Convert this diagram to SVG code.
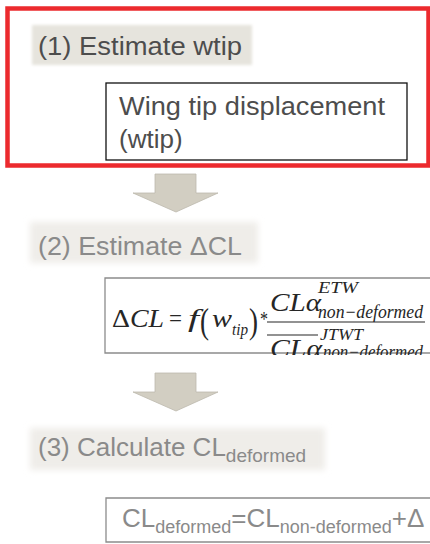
<svg xmlns="http://www.w3.org/2000/svg" width="430" height="544" viewBox="0 0 430 544">
<defs>
<style>
.sans{font-family:"Liberation Sans",Arial,sans-serif;}
.math{font-family:"Liberation Serif","Times New Roman",serif;fill:#262626;}
.it{font-style:italic;}
.dark{fill:#4d4d4d;}
.light{fill:#8a8a8a;}
.arrow{fill:#d2cec2;stroke:#bdb9ad;stroke-width:0.8;}
.fbox{fill:none;stroke:#8c8c8c;stroke-width:1.3;}
</style>
<filter id="soft1" x="-10%" y="-30%" width="120%" height="160%"><feGaussianBlur stdDeviation="1.5"/></filter>
<filter id="soft2" x="-10%" y="-30%" width="120%" height="160%"><feGaussianBlur stdDeviation="3"/></filter>
<clipPath id="fclip"><rect x="100" y="270" width="330" height="85"/></clipPath>
</defs>
<rect width="430" height="544" fill="#ffffff"/>

<g id="step1">
<rect x="32" y="25" width="220" height="40" fill="#e6e4dd" filter="url(#soft1)"/>
<text class="sans dark" x="38" y="55" font-size="26" textLength="204" lengthAdjust="spacingAndGlyphs">(1) Estimate wtip</text>
<rect x="106" y="83" width="301" height="77" fill="#ffffff" stroke="#111111" stroke-width="1.3"/>
<text class="sans dark" x="119" y="115" font-size="26" textLength="266" lengthAdjust="spacingAndGlyphs">Wing tip displacement</text>
<text class="sans dark" x="119" y="148" font-size="26">(wtip)</text>
<rect x="7.5" y="8.5" width="421" height="157" fill="none" stroke="#ec2a2e" stroke-width="4.5"/>
</g>

<g id="step2">
<rect x="30" y="222" width="228" height="41" fill="#efede9" filter="url(#soft2)"/>
<text class="sans light" x="38" y="255" font-size="26" textLength="204" lengthAdjust="spacingAndGlyphs">(2) Estimate ΔCL</text>
</g>

<g id="formula2">
<path class="fbox" d="M430,278 H105 V353 H430"/>
<g clip-path="url(#fclip)">
<text class="math" x="112" y="327" font-size="25" textLength="52" lengthAdjust="spacingAndGlyphs">Δ<tspan class="it">CL</tspan></text>
<text class="math" x="169" y="327" font-size="25" textLength="13" lengthAdjust="spacingAndGlyphs">=</text>
<text class="math it" x="188" y="327" font-size="25" textLength="11" lengthAdjust="spacingAndGlyphs">f</text>
<text class="math" x="200" y="333" font-size="36" textLength="9" lengthAdjust="spacingAndGlyphs">(</text>
<text class="math it" x="212" y="327" font-size="25" textLength="20" lengthAdjust="spacingAndGlyphs">w</text>
<text class="math it" x="232" y="335" font-size="16" textLength="16" lengthAdjust="spacingAndGlyphs">tip</text>
<text class="math" x="249" y="333" font-size="36" textLength="9" lengthAdjust="spacingAndGlyphs">)</text>
<text class="math" x="260" y="326" font-size="20" textLength="8" lengthAdjust="spacingAndGlyphs">*</text>
<text class="math it" x="270" y="311" font-size="25" textLength="51" lengthAdjust="spacingAndGlyphs">CLα</text>
<text class="math it" x="318" y="293" font-size="17" textLength="40" lengthAdjust="spacingAndGlyphs">ETW</text>
<text class="math it" x="318" y="318" font-size="18" textLength="105" lengthAdjust="spacingAndGlyphs">non−deformed</text>
<line x1="267" y1="322" x2="425" y2="322" stroke="#262626" stroke-width="1.1"/>
<line x1="267" y1="335" x2="318" y2="335" stroke="#262626" stroke-width="1.1"/>
<text class="math it" x="320" y="340" font-size="17" textLength="43" lengthAdjust="spacingAndGlyphs">JTWT</text>
<text class="math it" x="270" y="357" font-size="25" textLength="52" lengthAdjust="spacingAndGlyphs">CLα</text>
<text class="math it" x="323" y="358" font-size="18" textLength="100" lengthAdjust="spacingAndGlyphs">non−deformed</text>
</g>
</g>

<g id="step3">
<rect x="30" y="428" width="295" height="42" fill="#efede9" filter="url(#soft2)"/>
<text class="sans light" x="38" y="456" font-size="26">(3) Calculate CL<tspan font-size="19" dy="6">deformed</tspan></text>
</g>

<g id="formula3">
<path class="fbox" d="M430,498 H106 V542 H430"/>
<text class="sans light" x="122" y="527" font-size="26">CL<tspan font-size="18" dy="6">deformed</tspan><tspan dy="-6">=CL</tspan><tspan font-size="18" dy="6">non-deformed</tspan><tspan dy="-6">+Δ</tspan></text>
</g>

<g id="connectors">
<path class="arrow" d="M155,174 H196 V193 H218 L176,212 L133,193 H155 Z"/>
<path class="arrow" d="M155,373 H196 V392 H218 L176,411 L133,392 H155 Z"/>
</g>
</svg>
